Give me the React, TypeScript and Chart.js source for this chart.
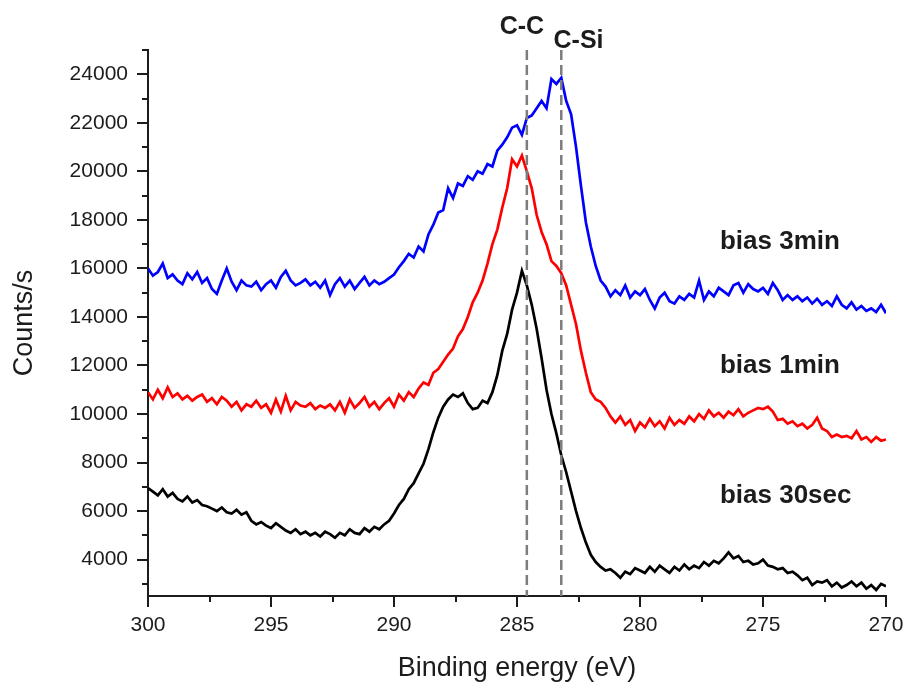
import React, { useEffect, useRef } from "react";
import { Chart, registerables } from "chart.js";

Chart.register(...registerables);

// Binding-energy grid (eV), scanned from high to low
const ENERGY_START = 300;
const ENERGY_STEP = 0.2;

// C 1s spectra, counts/s
const bias30sec = [
  6950, 6800, 6650, 6900, 6600, 6750, 6500, 6400, 6600, 6350,
  6450, 6250, 6200, 6100, 6000, 6150, 5950, 5900, 6050, 5850,
  5950, 5600, 5450, 5550, 5400, 5300, 5500, 5350, 5200, 5100,
  5250, 5050, 5150, 5000, 5100, 4950, 5150, 5050, 4900, 5100,
  5000, 5250, 5100, 5050, 5300, 5150, 5350, 5250, 5450, 5600,
  5900, 6250, 6500, 6900, 7150, 7550, 7950, 8550, 9250, 9850,
  10300, 10600, 10800, 10700, 10850, 10450, 10200, 10250, 10550, 10450,
  10900, 11600, 12600, 13300, 14300, 15000, 15900, 15300, 14500, 13500,
  12300, 11000, 10000, 9200, 8300, 7600, 6800, 6000, 5300, 4700,
  4200, 3900, 3700, 3550, 3600, 3450, 3250, 3500, 3400, 3650,
  3550, 3450, 3700, 3500, 3750, 3600, 3450, 3700, 3550, 3800,
  3600, 3750, 3650, 3900, 3750, 3950, 3850, 4050, 4300, 4050,
  4150, 3900, 3950, 3800, 3850, 4000, 3750, 3700, 3600, 3650,
  3450, 3500, 3350, 3150, 3250, 2950, 3100, 3050, 3150, 2900,
  3050, 2850, 2950, 3100, 2900, 3050, 2800, 2950, 2750, 3000, 2900,
];

const bias1min = [
  10900, 10600, 11000, 10650, 11100, 10700, 10850, 10600, 10750, 10550,
  10700, 10800, 10500, 10650, 10400, 10700, 10550, 10300, 10500, 10150,
  10400, 10300, 10550, 10250, 10400, 10050, 10600, 10100, 10750, 10150,
  10500, 10350, 10300, 10450, 10200, 10350, 10250, 10400, 10150, 10500,
  10050, 10600, 10250, 10450, 10700, 10300, 10500, 10200, 10450, 10650,
  10300, 10800, 10550, 10900, 10700, 11050, 11300, 11200, 11700, 11850,
  12150, 12450, 12700, 13200, 13500, 14000, 14600, 15000, 15500, 16200,
  17000, 17600, 18500, 19300, 20500, 20200, 20650, 20000, 19300, 18200,
  17500, 17000, 16300, 16100, 15800, 15300, 14500, 13700, 12600, 11700,
  10900, 10600, 10500, 10250, 9900, 9650, 9900, 9550, 9750, 9300,
  9650, 9450, 9800, 9500, 9700, 9400, 9850, 9550, 9750, 9600,
  9900, 9700, 10000, 9800, 10150, 9900, 10050, 9850, 10100, 9950,
  10200, 9900, 10050, 10150, 10250, 10200, 10300, 10100, 9750, 9800,
  9600, 9700, 9500, 9600, 9400, 9550, 9850, 9400, 9300, 9050,
  9150, 9050, 9100, 9000, 9300, 8950, 9050, 8850, 9050, 8900, 8950,
];

const bias3min = [
  16000, 15700, 15850, 16200, 15600, 15750, 15500, 15350, 15800, 15550,
  15850, 15400, 15600, 15150, 14950, 15500, 16000, 15450, 15100, 15500,
  15300, 15250, 15450, 15100, 15350, 15500, 15200, 15650, 15900, 15500,
  15300, 15400, 15550, 15300, 15450, 15200, 15500, 14900, 15350, 15600,
  15250, 15500, 15150, 15400, 15650, 15300, 15500, 15350, 15450, 15600,
  15750, 16050, 16300, 16600, 16450, 16900, 16700, 17400, 17800, 18300,
  18400, 19300, 18900, 19500, 19400, 19800, 19650, 20000, 19900, 20300,
  20200, 20850, 21100, 21400, 21800, 21900, 21500, 22200, 22300, 22600,
  22900, 22600, 23800, 23600, 23850, 22900, 22350, 21000, 19400, 17900,
  16900, 16100, 15500, 15250, 14850, 15100, 14900, 15300, 14800, 15050,
  14900, 15150, 14700, 14350, 14800, 15000, 14650, 14550, 14850, 14700,
  14950, 14800, 15500, 14700, 15050, 14850, 15200, 15050, 14900, 15300,
  15400, 15000, 15350, 15150, 15050, 15200, 14950, 15400, 15100, 14700,
  14900, 14700, 14850, 14650, 14800, 14550, 14750, 14500, 14650, 14450,
  14850, 14500, 14350, 14600, 14300, 14450, 14250, 14350, 14200, 14500, 14150,
];

const seriesNames = ["bias 3min", "bias 1min", "bias 30sec"];
const seriesColors = ["#0000ff", "#ff0000", "#000000"];
const seriesLabelEnergy = 276.75;
const seriesLabelCounts = [17100, 11980, 6620];

// Reference binding energies of the chemical states
const peakNames = ["C-C", "C-Si"];
const peakEnergies = [284.6, 283.2];
const peakLabelEnergies = [284.8, 282.5];
const peakLabelCounts = [25950, 25370];

// Axis ranges and tick positions (labelled ticks carry text, the rest are minor)
const X_MIN = 270;
const X_MAX = 300;
const Y_MIN = 2500;
const Y_MAX = 25000;
const xTickValues = [300, 297.5, 295, 292.5, 290, 287.5, 285, 282.5, 280, 277.5, 275, 272.5, 270];
const xTickLabels = ["300", "", "295", "", "290", "", "285", "", "280", "", "275", "", "270"];
const yTickValues = [
  3000, 4000, 5000, 6000, 7000, 8000, 9000, 10000, 11000, 12000, 13000, 14000,
  15000, 16000, 17000, 18000, 19000, 20000, 21000, 22000, 23000, 24000, 25000,
];
const yTickLabels = [
  "", "4000", "", "6000", "", "8000", "", "10000", "", "12000", "", "14000",
  "", "16000", "", "18000", "", "20000", "", "22000", "", "24000", "",
];

const FONT = "'Liberation Sans', Arial, Helvetica, sans-serif";
const INK = "#1c1c1c";

const energies = bias30sec.map((_, i) => +(ENERGY_START - i * ENERGY_STEP).toFixed(1));
const toPoints = (counts: number[]) => counts.map((c, i) => ({ x: energies[i], y: c }));

const decorations = {
  id: "decorations",
  afterDatasetsDraw(chart: any) {
    const { ctx, chartArea, scales } = chart;
    const x = scales.x;
    ctx.save();
    ctx.strokeStyle = "#7d7d7d";
    ctx.lineWidth = 2.5;
    ctx.setLineDash([10, 5]);
    peakEnergies.forEach((e) => {
      const px = x.getPixelForValue(e);
      ctx.beginPath();
      ctx.moveTo(px, chartArea.top);
      ctx.lineTo(px, chartArea.bottom);
      ctx.stroke();
    });
    ctx.restore();
  },
  afterDraw(chart: any) {
    const { ctx, chartArea, scales } = chart;
    const x = scales.x;
    const y = scales.y;
    ctx.save();
    // outward tick marks: long for labelled values, short in between
    ctx.strokeStyle = INK;
    ctx.lineWidth = 2;
    ctx.beginPath();
    yTickValues.forEach((v, i) => {
      const len = yTickLabels[i] ? 11 : 6;
      const py = Math.round(y.getPixelForValue(v));
      ctx.moveTo(chartArea.left, py);
      ctx.lineTo(chartArea.left - len, py);
    });
    xTickValues.forEach((v, i) => {
      const len = xTickLabels[i] ? 11 : 6;
      const px = Math.round(x.getPixelForValue(v));
      ctx.moveTo(px, chartArea.bottom);
      ctx.lineTo(px, chartArea.bottom + len);
    });
    ctx.stroke();

    ctx.fillStyle = INK;
    ctx.textBaseline = "middle";
    ctx.font = `bold 25px ${FONT}`;
    ctx.textAlign = "center";
    peakNames.forEach((name, i) => {
      ctx.fillText(name, x.getPixelForValue(peakLabelEnergies[i]), y.getPixelForValue(peakLabelCounts[i]));
    });
    ctx.font = `bold 26px ${FONT}`;
    ctx.textAlign = "left";
    seriesNames.forEach((name, i) => {
      ctx.fillText(name, x.getPixelForValue(seriesLabelEnergy), y.getPixelForValue(seriesLabelCounts[i]));
    });
    ctx.restore();
  },
};

export default function App() {
  const canvasRef = useRef<HTMLCanvasElement | null>(null);

  useEffect(() => {
    document.body.style.margin = "0";
    const canvas = canvasRef.current;
    if (!canvas) return;
    const series = [bias3min, bias1min, bias30sec];
    const chart = new Chart(canvas, {
      type: "line",
      data: {
        datasets: series.map((counts, i) => ({
          label: seriesNames[i],
          data: toPoints(counts),
          borderColor: seriesColors[i],
          backgroundColor: seriesColors[i],
          borderWidth: 2.7,
          pointRadius: 0,
          tension: 0,
          fill: false,
        })),
      },
      options: {
        animation: false,
        responsive: false,
        devicePixelRatio: 1,
        layout: { padding: { top: 50, right: 21, bottom: 0, left: 0 } },
        plugins: {
          legend: { display: false },
          tooltip: { enabled: false },
        },
        scales: {
          x: {
            type: "linear",
            reverse: true,
            min: X_MIN,
            max: X_MAX,
            grid: { display: false },
            border: { display: true, color: INK, width: 2 },
            afterBuildTicks: (scale: any) => {
              scale.ticks = xTickValues.map((value) => ({ value }));
            },
            ticks: {
              autoSkip: false,
              maxRotation: 0,
              padding: 9,
              color: INK,
              font: { family: FONT, size: 21 },
              callback: (_v: any, index: number) => xTickLabels[index],
            },
            title: {
              display: true,
              text: "Binding energy (eV)",
              color: INK,
              font: { family: FONT, size: 27 },
              padding: { top: 0, bottom: -3 },
            },
            afterFit: (scale: any) => {
              scale.height = 86;
              scale.paddingLeft = 0;
              scale.paddingRight = 0;
            },
          },
          y: {
            type: "linear",
            min: Y_MIN,
            max: Y_MAX,
            grid: { display: false },
            border: { display: true, color: INK, width: 2 },
            afterBuildTicks: (scale: any) => {
              scale.ticks = yTickValues.map((value) => ({ value }));
            },
            ticks: {
              autoSkip: false,
              padding: 12,
              color: INK,
              font: { family: FONT, size: 21 },
              callback: (_v: any, index: number) => yTickLabels[index],
            },
            title: {
              display: true,
              text: "Counts/s",
              color: INK,
              font: { family: FONT, size: 27 },
              padding: { top: 8, bottom: 0 },
            },
            afterFit: (scale: any) => {
              scale.width = 148;
              scale.paddingTop = 0;
              scale.paddingBottom = 0;
            },
          },
        },
      },
      plugins: [decorations],
    });
    return () => chart.destroy();
  }, []);

  return (
    <div style={{ width: 907, height: 682, background: "#fff" }}>
      <canvas ref={canvasRef} width={907} height={682} />
    </div>
  );
}
